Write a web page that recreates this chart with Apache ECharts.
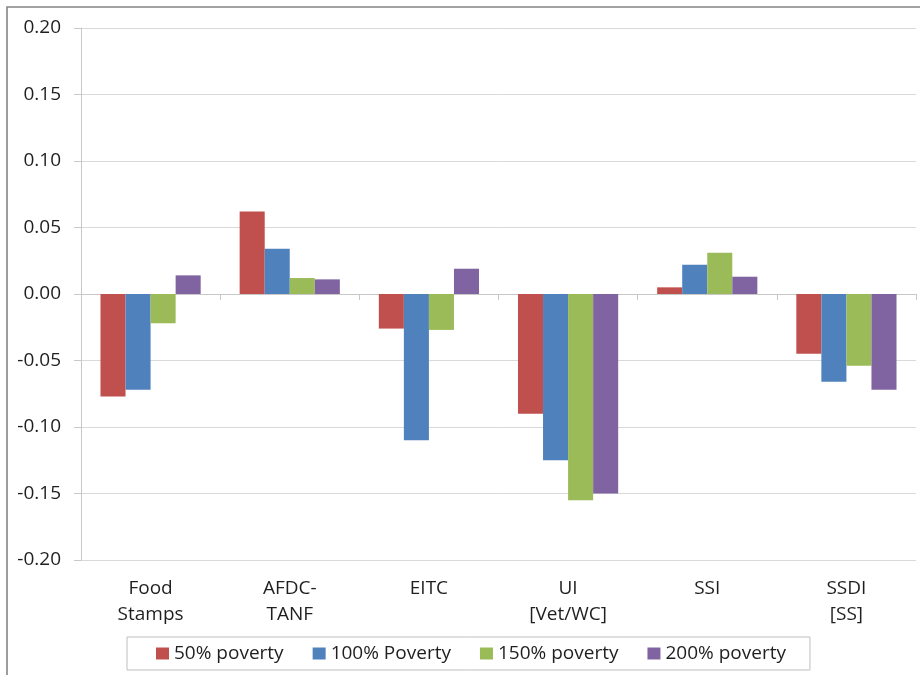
<!DOCTYPE html>
<html>
<head>
<meta charset="utf-8">
<title>Poverty effects by program</title>
<script src="https://cdn.jsdelivr.net/npm/echarts@6/dist/echarts.min.js"></script>
<style>
  html, body { margin: 0; padding: 0; background: #ffffff; }
  #chart { width: 920px; height: 675px; }
</style>
</head>
<body>
<div id="chart"></div>
<script>
// Programs on the category axis
const programs = ['Food\nStamps', 'AFDC-\nTANF', 'EITC', 'UI\n[Vet/WC]', 'SSI', 'SSDI\n[SS]'];

// Series names and their values per program
const seriesNames = ['50% poverty', '100% Poverty', '150% poverty', '200% poverty'];
const poverty50  = [-0.077,  0.062, -0.026, -0.090, 0.005, -0.045];
const poverty100 = [-0.072,  0.034, -0.110, -0.125, 0.022, -0.066];
const poverty150 = [-0.022,  0.012, -0.027, -0.155, 0.031, -0.054];
const poverty200 = [ 0.014,  0.011,  0.019, -0.150, 0.013, -0.072];

// Value axis ticks
const yTicks = { min: -0.20, max: 0.20, interval: 0.05 };

const colors = ['#C0504D', '#4F81BD', '#9BBB59', '#8064A2'];
const values = [poverty50, poverty100, poverty150, poverty200];
const font = 'Open Sans';
const textColor = '#1f1f1f';

const chart = echarts.init(document.getElementById('chart'));
chart.setOption({
  animation: false,
  backgroundColor: '#ffffff',
  textStyle: { fontFamily: font },
  graphic: [{
    type: 'rect',
    shape: { x: 7, y: 7, width: 1000, height: 1000 },
    style: { fill: 'none', stroke: '#858585', lineWidth: 1.6 },
    silent: true
  }],
  grid: { left: 81, top: 28, right: 4, bottom: 115 },
  legend: {
    data: seriesNames,
    left: 127,
    top: 637,
    orient: 'horizontal',
    itemWidth: 13,
    itemHeight: 12,
    itemGap: 29,
    padding: [7, 24, 7, 29],
    borderColor: '#bfbfbf',
    borderWidth: 1,
    icon: 'rect',
    textStyle: { fontFamily: font, fontSize: 19, color: textColor }
  },
  xAxis: [{
    type: 'category',
    data: programs,
    position: 'bottom',
    axisLine: { show: false, onZero: false },
    axisTick: { show: false },
    axisLabel: { fontFamily: font, fontSize: 19, color: textColor, margin: 16, lineHeight: 26 }
  }, {
    type: 'category',
    data: programs,
    position: 'bottom',
    axisLine: { show: true, onZero: true, lineStyle: { color: '#c8c8c8', width: 1 } },
    axisTick: { show: true, length: 6, lineStyle: { color: '#c8c8c8' } },
    axisLabel: { show: false },
    splitLine: { show: false }
  }],
  yAxis: {
    type: 'value',
    min: yTicks.min,
    max: yTicks.max,
    interval: yTicks.interval,
    axisLine: { show: true, lineStyle: { color: '#c8c8c8' } },
    axisTick: { show: true, length: 7, lineStyle: { color: '#c8c8c8' } },
    axisLabel: {
      fontFamily: font, fontSize: 19, color: textColor, margin: 20,
      formatter: v => v.toFixed(2)
    },
    splitLine: { show: true, lineStyle: { color: '#d9d9d9', width: 1 } }
  },
  series: seriesNames.map((name, i) => ({
    name: name,
    type: 'bar',
    xAxisIndex: 0,
    data: values[i],
    barGap: '0%',
    barCategoryGap: '28%',
    itemStyle: { color: colors[i] }
  }))
});
</script>
</body>
</html>
